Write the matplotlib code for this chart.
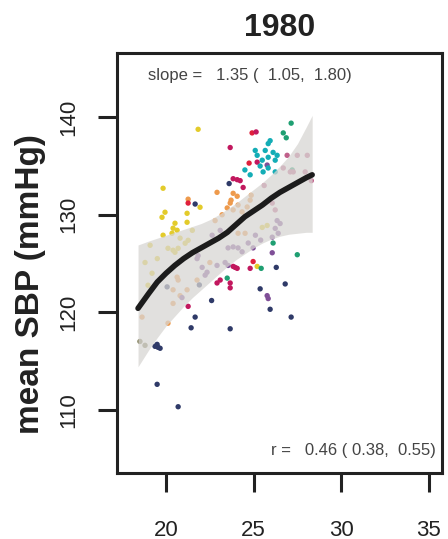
import matplotlib.pyplot as plt
import numpy as np

plt.rcParams["font.family"] = ["Liberation Sans", "DejaVu Sans"]

# points by colour group: (BMI, mean SBP)
yellow_x = [21.83, 19.83, 21.94, 19.94, 19.77, 21.2, 20.51, 20.4, 20.63, 20.34, 21.2, 21.26, 21.09,
            20.11, 20.4, 20.69, 20.51, 19.2, 18.97, 19.83, 19.09, 25.2, 25.49, 25.77, 20.8, 21.5,
            19.5, 18.8]
yellow_y = [138.77, 132.72, 130.77, 130.26, 129.74, 130.15, 129.13, 128.62, 128.41, 128.1, 129.23,
            127.38, 127.08, 126.56, 126.36, 126.56, 126.15, 124.0, 122.77, 127.9, 126.87, 124.7,
            128.7, 128.9, 127.6, 128.4, 125.5, 125.1]

orange_x = [22.91, 21.26, 20.11, 18.63, 20.8, 21.2, 20.4, 20.4, 22.5, 23.83, 24.06, 23.71, 23.66,
            24.11, 23.49, 23.83, 24.34, 24.63, 24.8, 24.86, 23.2, 22.8, 24.11, 24.51, 20.63, 20.69,
            21.77]
orange_y = [132.3, 131.6, 118.87, 119.5, 121.7, 122.3, 122.3, 120.9, 125.1, 132.2, 131.9, 131.5,
            131.2, 131.0, 130.7, 130.5, 130.3, 130.8, 131.5, 132.0, 130.0, 129.4, 128.1, 128.1,
            123.6, 123.3, 123.3]

red_x = [24.91, 24.74, 24.97, 21.26]
red_y = [138.4, 135.3, 125.2, 131.2]

crimson_x = [25.14, 23.66, 23.83, 24.06, 24.23, 24.4, 25.2, 21.26, 23.94, 24.06, 23.83, 23.66,
             23.66, 22.91, 23.09, 24.8]
crimson_y = [138.5, 136.9, 133.7, 133.6, 133.5, 132.8, 135.4, 120.6, 124.6, 124.5, 124.7, 123.0,
             122.5, 123.0, 123.3, 124.5]

purple_x = [21.83, 21.77, 22.63, 23.09, 22.06, 22.34, 22.23, 22.91, 23.37, 20.91, 26.34, 26.51,
            26.23, 26.4, 26.06, 24.97, 24.69, 26.06, 23.54, 23.83, 24.11, 24.34, 23.54, 25.77,
            25.83, 25.77, 25.4, 25.1]
purple_y = [125.8, 125.5, 127.9, 128.4, 124.6, 124.1, 123.8, 124.8, 125.1, 121.5, 129.4, 129.1,
            128.6, 128.1, 127.7, 126.6, 127.1, 126.1, 126.6, 126.7, 126.6, 126.2, 124.8, 121.7,
            121.4, 135.1, 127.4, 127.9]

navy_x = [23.6, 21.66, 20.06, 21.66, 21.43, 19.49, 19.54, 19.66, 19.37, 19.49, 20.69, 23.66,
          26.29, 26.8, 25.37, 25.94, 27.14, 22.6, 21.9]
navy_y = [133.2, 131.1, 122.6, 119.5, 118.4, 116.7, 116.4, 116.3, 116.5, 112.6, 110.3, 118.3,
          124.6, 122.9, 122.4, 120.3, 119.5, 121.2, 122.8]

olive_x = [18.51, 18.8]
olive_y = [117.0, 116.6]

green_x = [26.11, 27.49, 25.43, 23.49, 27.14, 26.69, 26.86, 27.2]
green_y = [127.1, 125.9, 124.5, 123.5, 139.4, 138.4, 137.9, 134.6]

teal_x = [25.94, 25.83, 25.66, 26.11, 26.34, 25.83, 25.2, 25.09, 25.49, 26.23, 25.37, 25.83,
          25.54, 26.23, 24.8, 24.5]
teal_y = [137.6, 137.3, 136.6, 136.4, 136.1, 135.9, 136.1, 136.6, 135.6, 135.6, 135.0, 134.8,
          134.4, 134.4, 134.1, 134.6]

pink_x = [26.91, 27.49, 28.06, 26.69, 27.09, 27.94, 26.23, 26.06, 27.26, 28.29, 25.6, 26.8]
pink_y = [136.1, 136.1, 136.1, 134.8, 134.4, 134.4, 130.5, 131.2, 134.4, 133.5, 133.0, 132.6]

groups = [
    (yellow_x, yellow_y, "#e3cb2a"),
    (orange_x, orange_y, "#ee9a4c"),
    (red_x, red_y, "#e0203c"),
    (crimson_x, crimson_y, "#c2185e"),
    (purple_x, purple_y, "#7f4f97"),
    (navy_x, navy_y, "#2f3a68"),
    (olive_x, olive_y, "#7d7a55"),
    (green_x, green_y, "#1f9f72"),
    (teal_x, teal_y, "#14adb6"),
    (pink_x, pink_y, "#c0608a"),
]

# loess fit and confidence band
fit_x = [18.4, 19.0, 19.5, 20.0, 20.5, 21.0, 21.5, 22.0, 22.5, 23.0, 23.5, 24.0, 24.5, 25.0,
         25.5, 26.0, 26.5, 27.0, 27.5, 28.0, 28.34]
fit_y = [120.4, 121.9, 123.1, 124.0, 124.8, 125.5, 126.1, 126.6, 127.1, 127.6, 128.2, 129.0,
         129.8, 130.4, 131.0, 131.7, 132.3, 132.8, 133.3, 133.8, 134.1]
band_hi = [126.9, 127.3, 127.6, 127.9, 128.2, 128.5, 128.8, 129.1, 129.5, 130.0, 130.6, 131.2,
           131.9, 132.6, 133.3, 134.1, 135.0, 136.0, 137.3, 139.0, 140.2]
band_lo = [114.4, 116.1, 117.4, 118.6, 119.6, 120.6, 121.5, 122.3, 123.1, 123.9, 124.7, 125.4,
           126.0, 126.6, 127.1, 127.5, 127.8, 128.0, 128.1, 128.2, 128.2]

fig = plt.figure(figsize=(4.48, 5.39), dpi=100)
ax = fig.add_axes([117 / 448, 66 / 539, 325 / 448, 420 / 539])

for gx, gy, col in groups:
    ax.scatter(gx, gy, s=15, color=col, edgecolors="none", zorder=2)

ax.fill_between(fit_x, band_lo, band_hi, color="#d8d6d3", alpha=0.75, lw=0, zorder=3)
ax.plot(fit_x, fit_y, color="#1c1c1c", lw=4, solid_capstyle="round", zorder=4)

ax.set_xlim(17.2, 35.75)
ax.set_ylim(103.5, 146.6)
ax.set_xticks([20, 25, 30, 35])
ax.set_yticks([110, 120, 130, 140])

for sp in ax.spines.values():
    sp.set_linewidth(2.2)
    sp.set_color("#222222")
ax.tick_params(axis="both", width=2.2, length=13.5, color="#222222", labelsize=16,
               labelcolor="#222222", pad=20)
ax.tick_params(axis="y", pad=14)
for lab in ax.get_yticklabels():
    lab.set_rotation(90)
    lab.set_va("center")

ax.set_title("1980", fontsize=23, fontweight="bold", color="#222222", pad=12)
ax.set_ylabel("mean SBP (mmHg)", fontsize=24, fontweight="bold", color="#222222")
ax.yaxis.set_label_coords(-0.22, 0.45)

ax.text(0.095, 0.965, "slope =   1.35 (  1.05,  1.80)", transform=ax.transAxes,
        fontsize=12, color="#444444", ha="left", va="top")
ax.text(0.98, 0.035, "r =   0.46 ( 0.38,  0.55)", transform=ax.transAxes,
        fontsize=12, color="#444444", ha="right", va="bottom")

fig.savefig("out.png", dpi=100)
